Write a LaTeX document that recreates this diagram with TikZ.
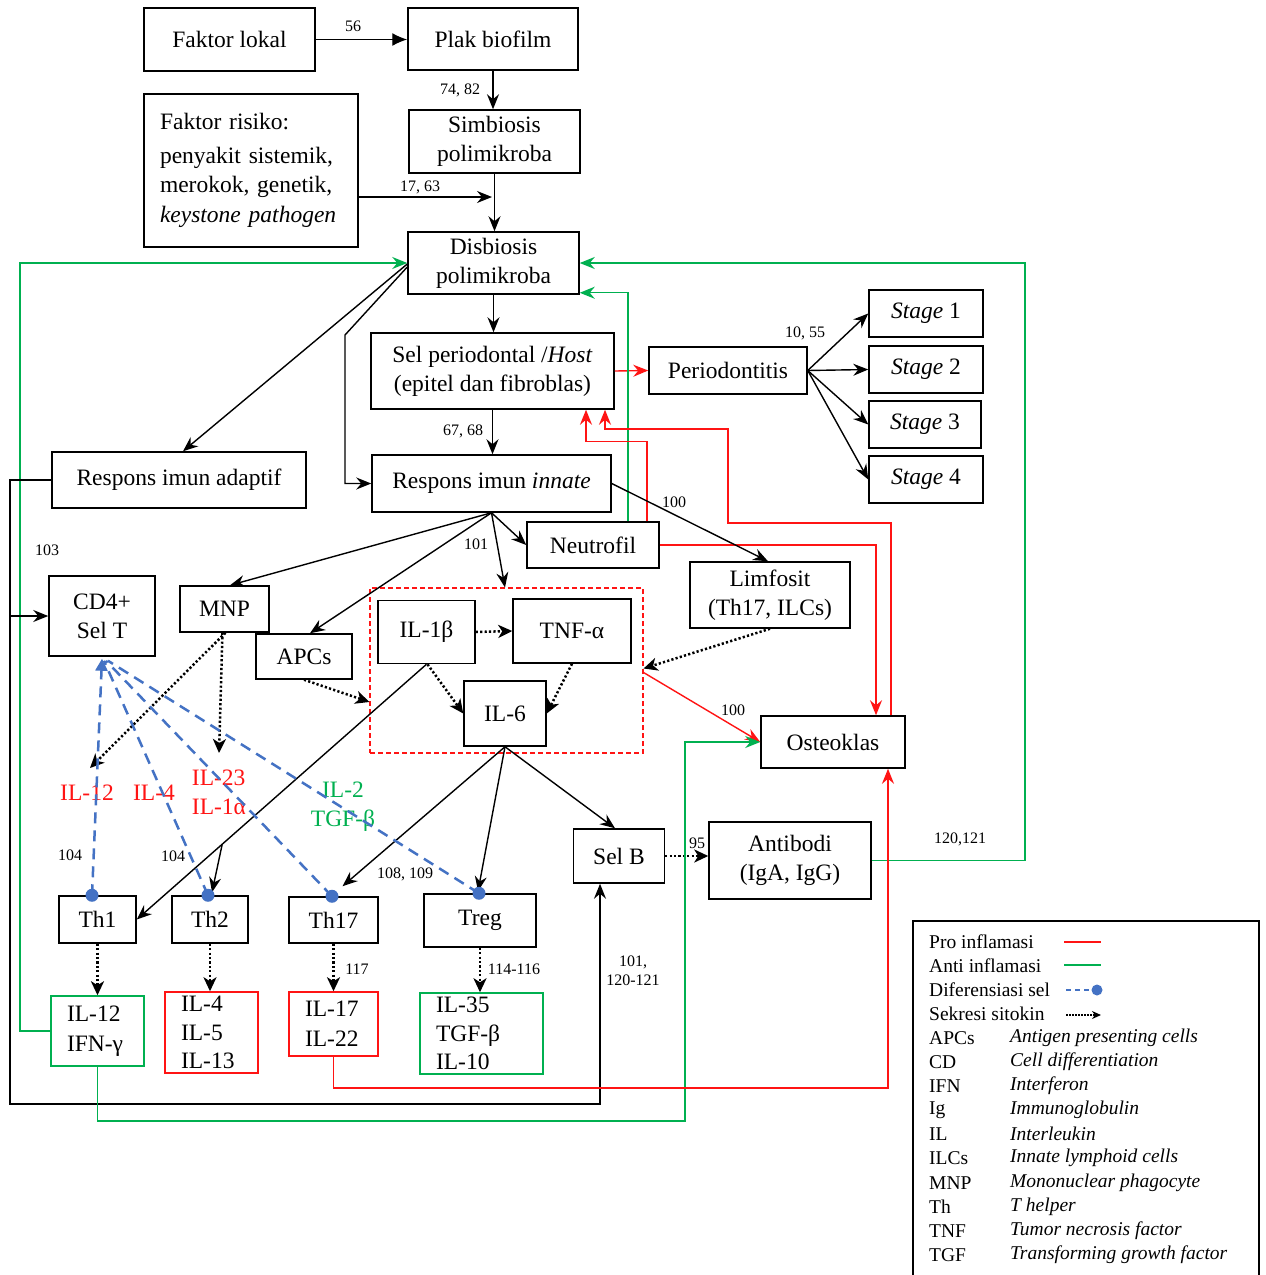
\documentclass[tikz,border=0pt]{standalone}
\usepackage{fontspec}
\setmainfont{Liberation Serif}
\usetikzlibrary{arrows.meta,calc}
\definecolor{myred}{RGB}{255,20,20}
\definecolor{mygreen}{RGB}{0,176,80}
\definecolor{myblue}{RGB}{68,114,196}
\begin{document}
\begin{tikzpicture}[x=1pt,y=-1pt,font=\fontsize{23.5}{29}\selectfont,
  mybox/.style={draw,line width=1.5pt,inner sep=0pt,align=center},
  cbox/.style={draw,line width=1.5pt,inner xsep=16pt,inner ysep=0pt,align=left},
  arr/.style={line width=1.4pt,-{Stealth[length=15pt,width=12pt,inset=5pt]}},
  arrT/.style={line width=1.4pt,-{Latex[length=15pt,width=13pt]}},
  rarr/.style={arr,draw=myred},
  garr/.style={arr,draw=mygreen},
  sec/.style={dash pattern=on 2.2pt off 2.2pt,line width=2.5pt,-{Stealth[length=14pt,width=13pt,inset=4pt]}},
  num/.style={font=\fontsize{16}{19}\selectfont,inner sep=0pt,align=center},
  diffl/.style={draw=myblue,dash pattern=on 11pt off 7pt,line width=2.5pt},
  bdot/.style={circle,fill=myblue,inner sep=0pt,minimum size=13pt},
  leg/.style={font=\fontsize{19.5}{22}\selectfont,inner sep=0pt,anchor=west}]
\useasboundingbox (0,0) rectangle (1266,1275);
\fill[white] (0,0) rectangle (1266,1275);

% ---------- nodes ----------
\node[mybox,minimum width=171pt,minimum height=63pt] (fl) at (229.5,39.5) {Faktor lokal};
\node[mybox,minimum width=170pt,minimum height=62pt] (pb) at (493,39) {Plak biofilm};
\node[mybox,minimum width=171pt,minimum height=63pt] (sp) at (494.5,141.5) {Simbiosis\\polimikroba};
\node[draw,line width=1.5pt,inner xsep=16pt,inner ysep=0pt,align=left,text width=182pt,minimum height=153pt,font=\fontsize{23.5}{29.5}\selectfont] (fr) at (251,170.5) {Faktor risiko:\\[4pt]penyakit sistemik,\\merokok, genetik,\\\textit{keystone pathogen}};
\node[mybox,minimum width=171pt,minimum height=62pt] (db) at (493.5,263) {Disbiosis\\polimikroba};
\node[mybox,minimum width=243pt,minimum height=76pt] (hp) at (492.5,371) {Sel periodontal /\textit{Host}\\(epitel dan fibroblas)};
\node[mybox,minimum width=158pt,minimum height=47pt] (pd) at (728,370.5) {Periodontitis};
\node[mybox,minimum width=114pt,minimum height=47pt] (s1) at (926,313.5) {\textit{Stage} 1};
\node[mybox,minimum width=114pt,minimum height=47pt] (s2) at (926,369.5) {\textit{Stage} 2};
\node[mybox,minimum width=112pt,minimum height=47pt] (s3) at (925,424.5) {\textit{Stage} 3};
\node[mybox,minimum width=114pt,minimum height=47pt] (s4) at (926,479.5) {\textit{Stage} 4};
\node[mybox,minimum width=254pt,minimum height=56pt] (ra) at (179,480) {Respons imun adaptif};
\node[mybox,minimum width=239pt,minimum height=57pt] (ri) at (491.5,483.5) {Respons imun \textit{innate}};
\node[mybox,minimum width=132pt,minimum height=46pt] (ne) at (593,545) {Neutrofil};
\node[mybox,minimum width=160pt,minimum height=66pt] (lf) at (770,595) {Limfosit\\(Th17, ILCs)};
\node[mybox,minimum width=106pt,minimum height=80pt] (cd) at (102,616) {CD4+\\Sel T};
\node[mybox,minimum width=89pt,minimum height=46pt] (mnp) at (224.5,609) {MNP};
\node[mybox,minimum width=96pt,minimum height=45pt] (apc) at (304,656.5) {APCs};
\node[draw=myred,dash pattern=on 5pt off 3pt,line width=1.1pt,minimum width=273pt,minimum height=165pt,inner sep=0pt] (dbox) at (506.5,670.5) {};
\node[mybox,minimum width=97pt,minimum height=63pt] (il1) at (426.5,632) {IL-1β};
\node[mybox,minimum width=118pt,minimum height=64pt] (tnf) at (572,631) {TNF-α};
\node[mybox,minimum width=82pt,minimum height=65pt] (il6) at (505,713.5) {IL-6};
\node[mybox,minimum width=144pt,minimum height=52pt] (ost) at (833,742) {Osteoklas};
\node[mybox,minimum width=91pt,minimum height=54pt] (selb) at (619,856) {Sel B};
\node[mybox,minimum width=162pt,minimum height=77pt] (ab) at (790,860.5) {Antibodi\\(IgA, IgG)};
\node[mybox,minimum width=77pt,minimum height=47pt] (th1) at (97.5,919.5) {Th1};
\node[mybox,minimum width=76pt,minimum height=47pt] (th2) at (210,919.5) {Th2};
\node[mybox,minimum width=89pt,minimum height=46pt] (th17) at (333.5,920) {Th17};
\node[mybox,minimum width=112pt,minimum height=53pt] (treg) at (480,920.5) {Treg};
\node[cbox,draw=mygreen,text width=61pt,minimum height=70pt,font=\fontsize{23.5}{30}\selectfont] (c1) at (97.5,1031) {IL-12\\IFN-γ};
\node[cbox,draw=myred,text width=61pt,minimum height=81pt,font=\fontsize{23.5}{28.5}\selectfont] (c2) at (211.5,1032.5) {IL-4\\IL-5\\IL-13};
\node[cbox,draw=myred,text width=57pt,minimum height=64pt,font=\fontsize{23.5}{30}\selectfont] (c3) at (333.5,1024) {IL-17\\IL-22};
\node[cbox,draw=mygreen,text width=91pt,minimum height=81pt,font=\fontsize{23.5}{28.5}\selectfont] (c4) at (481.5,1033.5) {IL-35\\TGF-β\\IL-10};

% labels over the differentiation lines
\node[text=myred,inner sep=0pt] (l12) at (87,793) {IL-12};
\node[text=myred,inner sep=0pt] (l4) at (154,793) {IL-4};
\node[text=myred,inner sep=0pt,align=left] (l23) at (219,792) {IL-23\\IL-1α};
\node[text=mygreen,inner sep=0pt,align=center] (l2) at (343,807) {IL-2\\TGF-β};

% ---------- connectors ----------
\draw[arrT] (fl.east) -- (fl.east -| pb.west);
\draw[arr] (pb.south) -- (pb.south |- sp.north);
\draw[arr] (sp.south) -- (sp.south |- db.north);
\coordinate (j1) at (492,197);
\draw[arr] (fr.east |- j1) -- (j1);
\draw[arr] (db.south) -- (db.south |- hp.north);
\draw[rarr] (hp.east) -- (pd.west);
\foreach \s in {s1,s2,s3,s4} \draw[arr] (pd.east) -- (\s.west);
\draw[arr] (hp.south) -- (hp.south |- ri.north);
\draw[arr] ([yshift=-1pt]db.west) -- ([xshift=4pt]ra.north);
\coordinate (k1) at (345,335);
\draw[arr] ([yshift=-4pt]db.west) -- (k1) -- (k1 |- ri.west) -- (ri.west);

% left green and black loops
\coordinate (gL) at (20,0);
\draw[garr] (c1.west) -- (c1.west -| gL) -- (db.west -| gL) -- (db.west);
\coordinate (bL) at (10,1104);
\draw[arr] (ra.west) -- (ra.west -| bL) -- (bL) -| ([xshift=-19pt]selb.south);
\draw[arr] (cd.west -| bL) -- (cd.west);

% right green loop
\coordinate (gR) at (1025,0);
\draw[garr] (ab.east) -- (ab.east -| gR) -- (db.east -| gR) -- (db.east);
\draw[garr] ([xshift=35pt]ne.north) |- ([yshift=2pt]db.south east);

% red feedback lines
\draw[rarr] ([xshift=54pt]ne.north) -- ++(0,-80) -| ([xshift=93.5pt]hp.south);
\draw[rarr] (ne.east) -| ([xshift=43pt]ost.north);
\coordinate (r2) at (728,523);
\draw[rarr] ([xshift=58pt]ost.north) |- (r2) -- ++(0,-94) -| ([xshift=112.5pt]hp.south);

% innate response
\draw[arr] (ri.south) -- ([xshift=5.5pt]mnp.north);
\draw[arr] (ri.south) -- ([xshift=6pt]apc.north);
\draw[arr] (ri.south) -- (ne.west);
\draw[arr] (ri.south) -- ([xshift=-1.5pt]dbox.north);
\draw[arr] (ri.east) -- ([xshift=-2pt]lf.north);
\draw[sec] (lf.south) -- ([yshift=2pt]dbox.east);
\draw[rarr] ([yshift=-2pt]dbox.east) -- (ost.west);
\draw[sec] (il1.east) -- (tnf.west);
\draw[sec] ([xshift=1pt]il1.south) -- (il6.west);
\draw[sec] (tnf.south) -- (il6.east);
\draw[sec] (apc.south) -- ([yshift=-31.5pt]dbox.west);
\draw[arr] (il1.south) -- (th1.east);
\coordinate (br) at ($(il1.south)!0.705!(th1.east)$);
\draw[arr] (br) -- ([xshift=2pt,yshift=3pt]th2.north);
\draw[arr] (il6.south) -- ([xshift=9pt,yshift=10pt]th17.north);
\draw[arr] (il6.south) -- ([xshift=-2pt,yshift=2pt]treg.north);
\draw[arr] (il6.south) -- ([xshift=-4pt]selb.north);
\draw[sec] (selb.east) -- (selb.east -| ab.west);

% cytokines to osteoclast
\coordinate (g3) at (685,1121);
\draw[garr] (c1.south) |- (g3) |- (ost.west);
\coordinate (r4) at (0,1088);
\draw[rarr] (c3.south) -- (c3.south |- r4) -| ([xshift=55pt]ost.south);

% MNP secretion
\coordinate (m1) at (90,768);
\coordinate (m2) at (219,753);
\draw[sec] ([xshift=1pt]mnp.south) -- (m1);
\draw[sec] ([xshift=-2pt]mnp.south) -- (m2);

% Th secretion
\draw[sec] (th1.south) -- (c1.north);
\draw[sec] (th2.south) -- (th2.south |- c2.north);
\draw[sec] (th17.south) -- (c3.north);
\draw[sec] (treg.south) -- (treg.south |- c4.north);

% differentiation (blue dashed)
\coordinate (d1) at ([xshift=-5.5pt]th1.north);
\coordinate (d2) at ([xshift=-2pt]th2.north);
\coordinate (d3) at ([xshift=-1.5pt]th17.north);
\coordinate (d4) at ([xshift=-1pt]treg.north);
\draw[diffl,-{Triangle[length=12pt,width=12pt]}] (d1) -- ([yshift=-2pt]cd.south);
\draw[diffl] (d2) -- ([xshift=2pt,yshift=-4pt]cd.south);
\draw[diffl] (d3) -- ([xshift=4pt,yshift=-4pt]cd.south);
\draw[diffl] (d4) -- ([xshift=6pt,yshift=-4pt]cd.south);
\node[bdot] (bd1) at (d1) {};
\node[bdot] (bd2) at (d2) {};
\node[bdot] (bd3) at (d3) {};
\node[bdot] (bd4) at (d4) {};

% reference numbers
\node[num] (n1) at (353,26) {56};
\node[num] (n2) at (460,90) {74, 82};
\node[num] (n3) at (420,187) {17, 63};
\node[num] (n4) at (805,333) {10, 55};
\node[num] (n5) at (463,431) {67, 68};
\node[num] (n6) at (674,502) {100};
\node[num] (n7) at (47,550) {103};
\node[num] (n8) at (476,544) {101};
\node[num] (n9) at (733,710) {100};
\node[num] (n10) at (70,855) {104};
\node[num] (n11) at (173,856) {104};
\node[num] (n12) at (405,874) {108, 109};
\node[num] (n13) at (697,843) {95};
\node[num] (n14) at (960,839) {120,121};
\node[num] (n15) at (357,969) {117};
\node[num] (n16) at (514,969) {114-116};
\node[num] (n17) at (633,971) {101,\\120-121};

% ---------- legend ----------
\draw[line width=1.8pt] (913,1290) -- (913,921) -- (1259,921) -- (1259,1290);
\node[leg] (lg1) at (929,942) {Pro inflamasi};
\node[leg] (lg2) at (929,966) {Anti inflamasi};
\node[leg] (lg3) at (929,990) {Diferensiasi sel};
\node[leg] (lg4) at (929,1014) {Sekresi sitokin};
\draw[myred,line width=1.5pt] (1064,942) -- (1101,942);
\draw[mygreen,line width=1.5pt] (1064,965) -- (1101,965);
\draw[myblue,line width=2pt,dash pattern=on 5pt off 4pt] (1066,990) -- (1094,990);
\node[bdot,minimum size=11pt] (lgd) at (1097,990) {};
\draw[dash pattern=on 1.5pt off 1.5pt,line width=1.5pt,-{Stealth[length=9pt,width=8pt]}] (1066,1015) -- (1101,1015);
\foreach \a/\b/\y [count=\i] in {APCs/Antigen presenting cells/1038,CD/Cell differentiation/1062,IFN/Interferon/1086,Ig/Immunoglobulin/1110,IL/Interleukin/1134,ILCs/Innate lymphoid cells/1158,MNP/Mononuclear phagocyte/1183,Th/T helper/1207,TNF/Tumor necrosis factor/1231,TGF/Transforming growth factor/1255}{
  \node[leg] (ab\i) at (929,\y) {\a};
  \node[leg] (de\i) at (1010,\y) {\textit{\b}};
}
\end{tikzpicture}
\end{document}
